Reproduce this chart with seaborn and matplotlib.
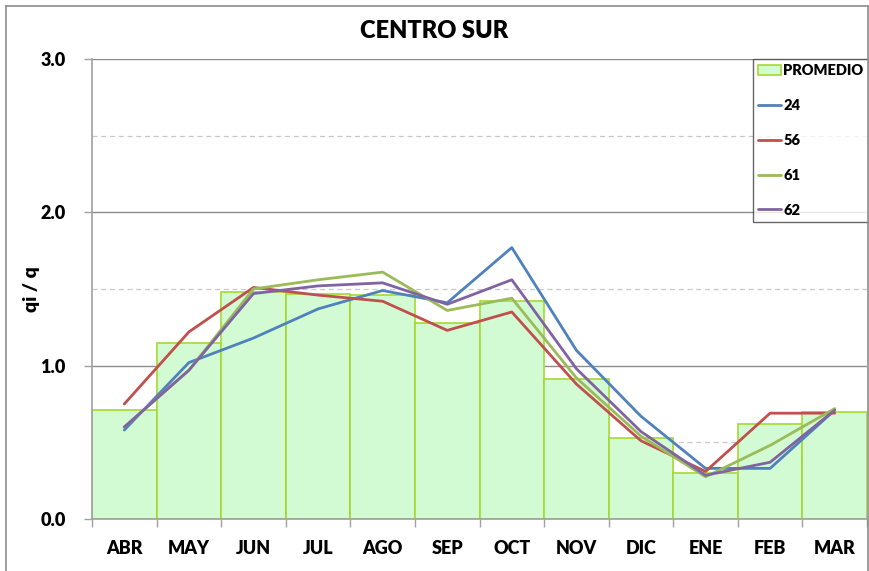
import numpy as np
import pandas as pd
import matplotlib
matplotlib.use("Agg")
import matplotlib.pyplot as plt
from matplotlib.lines import Line2D
from matplotlib.patches import Patch
import seaborn as sns

# Monthly ratio qi / q for the CENTRO SUR region
months = ["ABR", "MAY", "JUN", "JUL", "AGO", "SEP", "OCT", "NOV", "DIC", "ENE", "FEB", "MAR"]
promedio = [0.71, 1.15, 1.48, 1.47, 1.46, 1.28, 1.42, 0.91, 0.53, 0.30, 0.62, 0.70]
s24 = [0.58, 1.02, 1.18, 1.37, 1.49, 1.41, 1.77, 1.10, 0.67, 0.33, 0.33, 0.71]
s56 = [0.75, 1.22, 1.51, 1.46, 1.42, 1.23, 1.35, 0.88, 0.51, 0.31, 0.69, 0.69]
s61 = [0.60, 0.97, 1.50, 1.56, 1.61, 1.36, 1.44, 0.92, 0.54, 0.275, 0.48, 0.72]
s62 = [0.60, 0.97, 1.47, 1.52, 1.54, 1.40, 1.56, 0.98, 0.57, 0.285, 0.37, 0.71]
series_names = ["24", "56", "61", "62"]
series_values = [s24, s56, s61, s62]
series_colors = ["#4F81BD", "#C0504D", "#9BBB59", "#8064A2"]

sns.set_theme(style="white")
plt.rcParams["font.family"] = ["Lato", "DejaVu Sans"]
plt.rcParams["font.weight"] = "heavy"
plt.rcParams["text.color"] = "black"
plt.rcParams["axes.labelcolor"] = "black"
plt.rcParams["xtick.labelcolor"] = "black"
plt.rcParams["ytick.labelcolor"] = "black"

fig = plt.figure(figsize=(8.69, 5.71), dpi=100)
ax = fig.add_axes([0.1059, 0.0911, 0.8918, 0.8056])

bar_df = pd.DataFrame({"mes": months, "valor": promedio})
sns.barplot(data=bar_df, x="mes", y="valor", order=months, width=1.0,
            color="#d3fbd3", saturation=1, edgecolor="#a6d930", linewidth=1.2,
            ax=ax, zorder=2)

pos = {m: i for i, m in enumerate(months)}
line_df = pd.DataFrame({
    "pos": [pos[m] for m in months] * len(series_names),
    "valor": sum(series_values, []),
    "serie": sum([[n] * len(months) for n in series_names], []),
})
sns.lineplot(data=line_df, x="pos", y="valor", hue="serie", hue_order=series_names,
             palette=dict(zip(series_names, series_colors)), linewidth=2.0,
             ax=ax, legend=False, zorder=4)

# Axes limits, grid and ticks
ax.set_xlim(-0.5, len(months) - 0.5)
ax.set_ylim(0, 3.0)
for y in [1.0, 2.0, 3.0]:
    ax.axhline(y, color="#8c8c8c", linewidth=1.0, zorder=1)
for y in [0.5, 1.5, 2.5]:
    ax.axhline(y, color="#c8c8c8", linewidth=0.9, linestyle=(0, (4, 3)), zorder=1)

ax.set_yticks([0, 1, 2, 3])
ax.set_yticklabels(["0.0", "1.0", "2.0", "3.0"], fontsize=13, fontweight="heavy")
ax.set_xticks(np.arange(len(months) + 1) - 0.5)
ax.set_xticklabels([])
ax.set_xticks(np.arange(len(months)), minor=True)
ax.set_xticklabels(months, minor=True, fontsize=13, fontweight="heavy")
ax.tick_params(axis="x", which="major", direction="out", length=6, width=1,
               color="#a0a0a0", bottom=True)
ax.tick_params(axis="x", which="minor", length=0, pad=15)
ax.tick_params(axis="y", direction="out", length=6, width=1, color="#a0a0a0",
               left=True, pad=13)
ax.set_xlabel("")
ax.set_ylabel("qi / q", fontsize=14, fontweight="heavy")
ax.yaxis.set_label_coords(-0.067, 0.5)

for side in ["top", "right"]:
    ax.spines[side].set_visible(False)
for side in ["left", "bottom"]:
    ax.spines[side].set_color("#a0a0a0")
    ax.spines[side].set_linewidth(1.2)
    ax.spines[side].set_zorder(5)

# Legend
handles = [Patch(facecolor="#d3fbd3", edgecolor="#a6d930", linewidth=1.2, label="PROMEDIO")]
handles += [Line2D([0], [0], color=c, linewidth=2.0, label=n)
            for n, c in zip(series_names, series_colors)]
leg = ax.legend(handles=handles, loc="upper right", bbox_to_anchor=(1.002, 1.0),
                borderaxespad=0, frameon=True, fancybox=False,
                prop={"weight": "heavy", "size": 10.5}, labelspacing=1.5,
                handlelength=1.6, handletextpad=0.15, borderpad=0.35)
leg.get_frame().set_edgecolor("#404040")
leg.get_frame().set_linewidth(1.0)
leg.set_zorder(10)

fig.suptitle("CENTRO SUR", x=0.5, y=0.965, fontsize=17, fontweight="heavy")

# Outer chart frame
frame_kw = dict(color="#8c8c8c", linewidth=1.2, transform=fig.transFigure)
fig.add_artist(Line2D([0.007, 0.007], [0.0, 0.99], **frame_kw))
fig.add_artist(Line2D([0.007, 0.999], [0.99, 0.99], **frame_kw))
fig.add_artist(Line2D([0.999, 0.999], [0.0, 0.99], **frame_kw))

fig.savefig("out.png", dpi=100)
